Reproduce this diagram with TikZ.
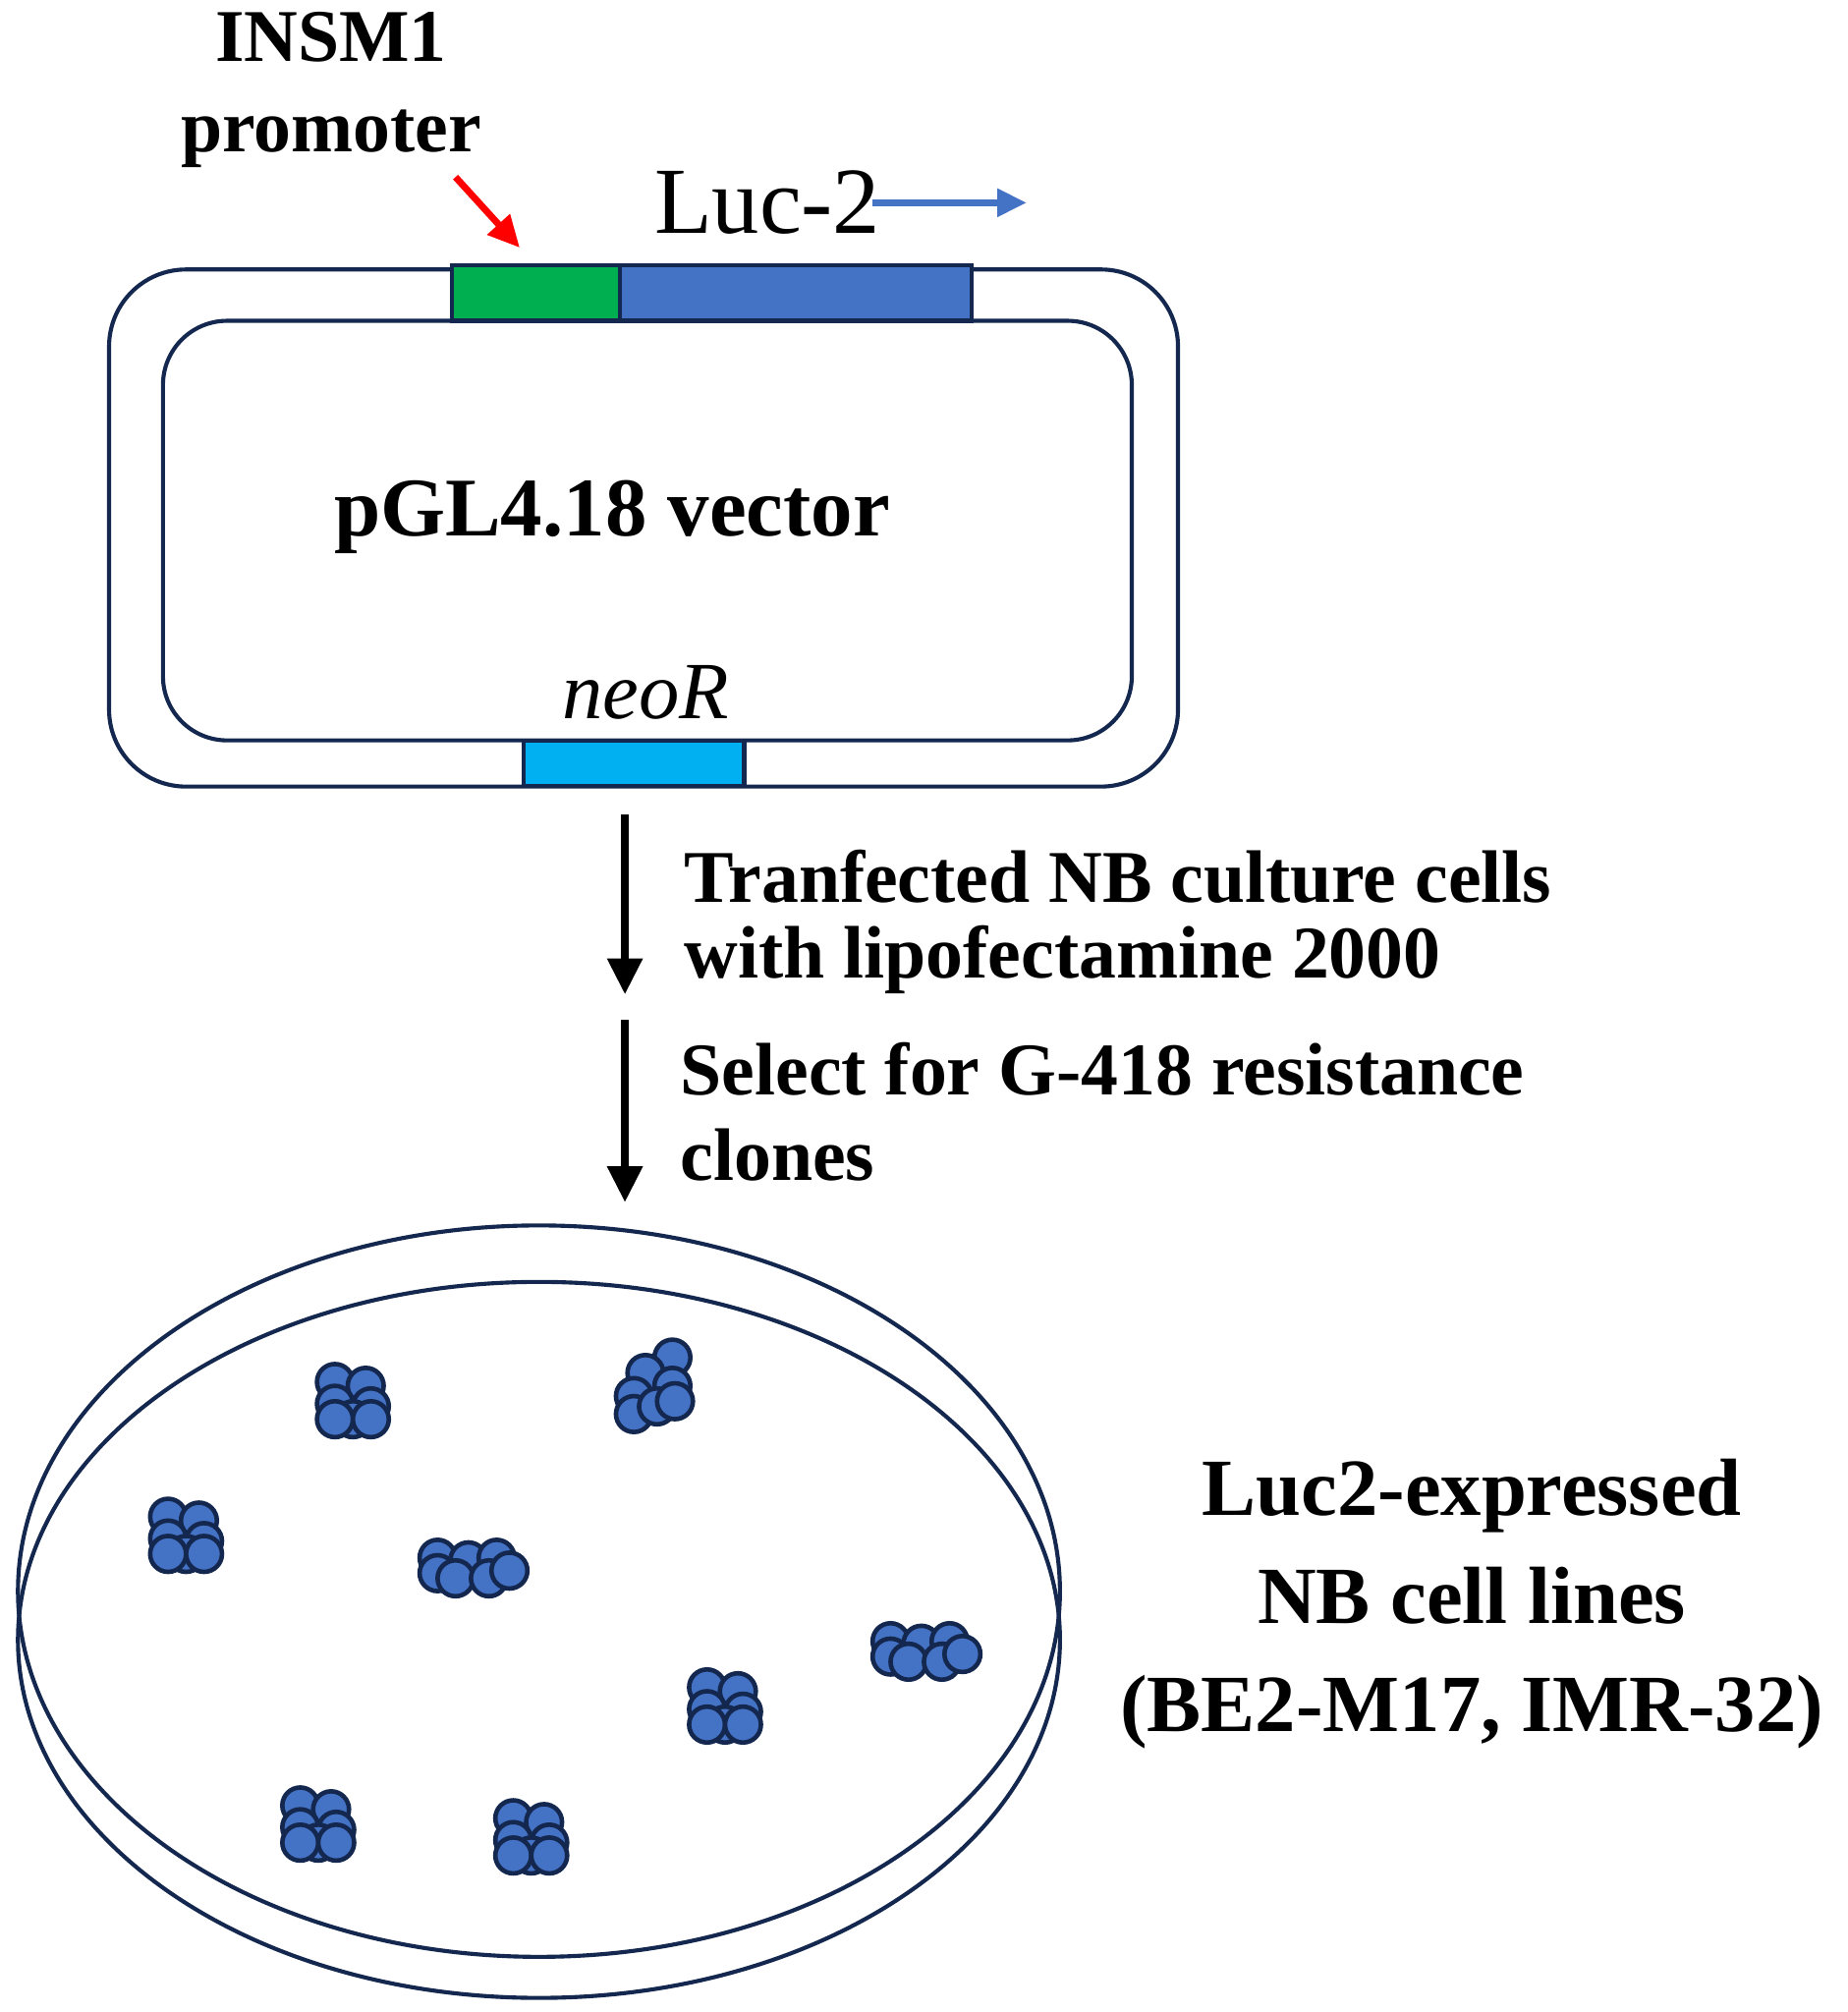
\documentclass[tikz,border=0pt]{standalone}
\usepackage{fontspec}
\setmainfont{Liberation Serif}
\usetikzlibrary{arrows.meta}
\definecolor{navy}{HTML}{14284F}
\definecolor{cellblue}{HTML}{4472C4}
\definecolor{promg}{HTML}{00B050}
\definecolor{neoc}{HTML}{00B0F0}
\tikzset{
  line/.style={draw=navy,line width=1.8pt},
  cell/.style={draw=navy,fill=cellblue,line width=2pt},
  lbl/.style={font=\fontsize{33}{40}\selectfont\bfseries,align=left,anchor=west,inner sep=0},
  cen/.style={font=\fontsize{33}{40}\selectfont\bfseries,align=center,inner sep=0},
  flowarrow/.style={-{Triangle[length=16pt,width=15pt]},line width=3.5pt,black},
  pics/colony/.style={code={
    \foreach \a/\b in {-12/-13,12/-10,-12/4,16/6,2/16,-12/16,16/16}
      \draw[cell] (\a,\b) circle (14);
  }},
  pics/colonyb/.style={code={
    \foreach \a/\b in {16/-22,-5/-10,16/0,-14/8,-14/22,4/16,18/12}
      \draw[cell] (\a,\b) circle (14);
  }},
  pics/colonyc/.style={code={
    \foreach \a/\b in {-24/-6,-24/6,0/-4,22/-6,-10/10,16/10,32/4}
      \draw[cell] (\a,\b) circle (14);
  }}
}
\begin{document}
\begin{tikzpicture}[x=0.02cm,y=-0.02cm]
\useasboundingbox (0,0) rectangle (1440,1568);
% vector
\draw[line] (85,270) arc (180:270:60) -- (858,210) arc (270:360:60) -- (918,553) arc (0:90:60) -- (145,613) arc (90:180:60) -- cycle;
\draw[line] (127,300) arc (180:270:50) -- (832,250) arc (270:360:50) -- (882,527) arc (0:90:50) -- (177,577) arc (90:180:50) -- cycle;
\node[draw=navy,line width=1.8pt,fill=promg,minimum width=2.62cm,minimum height=0.86cm,inner sep=0] (prom) at (417.5,228.5) {};
\node[draw=navy,line width=1.8pt,fill=cellblue,minimum width=5.48cm,minimum height=0.86cm,inner sep=0] (luc) at (620,228.5) {};
\node[draw=navy,line width=1.8pt,fill=neoc,minimum width=3.44cm,minimum height=0.7cm,inner sep=0] (neo) at (494,595) {};
\node[cen] (insm) at (258,70) {INSM1\\promoter};
\coordinate (ra) at (355,138);
\coordinate (rb) at (405,193);
\draw[-{Triangle[length=14pt,width=13pt]},red,line width=3pt] (ra) -- (rb);
\node[font=\fontsize{42}{46}\selectfont,inner sep=0] (luct) at (598,158) {Luc-2};
\coordinate (ba) at (680,158);
\coordinate (bb) at (800,158);
\draw[-{Triangle[length=13pt,width=12pt]},cellblue,line width=2.8pt] (ba) -- (bb);
\node[cen,font=\fontsize{37}{42}\selectfont\bfseries] (vec) at (477,403) {pGL4.18 vector};
\node[font=\fontsize{36}{40}\selectfont\itshape,inner sep=0] (neot) at (503,540) {neoR};
% arrows
\coordinate (a1) at (487,635); \coordinate (a2) at (487,775);
\coordinate (a3) at (487,795); \coordinate (a4) at (487,937);
\draw[flowarrow] (a1) -- (a2);
\draw[flowarrow] (a3) -- (a4);
\node[lbl] (t1) at (533,683) {Tranfected NB culture cells};
\node[lbl] (t2) at (533,748) {with lipofectamine 2000};
\node[lbl] (t3) at (530,833) {Select for G-418 resistance};
\node[lbl] (t4) at (530,900) {clones};
% dish
\draw[line] (420,1278) ellipse (406 and 279);
\draw[line] (420,1240) ellipse (406 and 285);
\pic at (273,1090) {colony};
\pic at (508,1080) {colonyb};
\pic at (143,1195) {colony};
\pic at (365,1220) {colonyc};
\pic at (718,1285) {colonyc};
\pic at (563,1328) {colony};
\pic at (246,1420) {colony};
\pic at (412,1430) {colony};
\node[cen,font=\fontsize{36}{42}\selectfont\bfseries,align=center] (res) at (1147,1250) {Luc2-expressed\\[6pt]NB cell lines\\[6pt](BE2-M17, IMR-32)};
\end{tikzpicture}
\end{document}
